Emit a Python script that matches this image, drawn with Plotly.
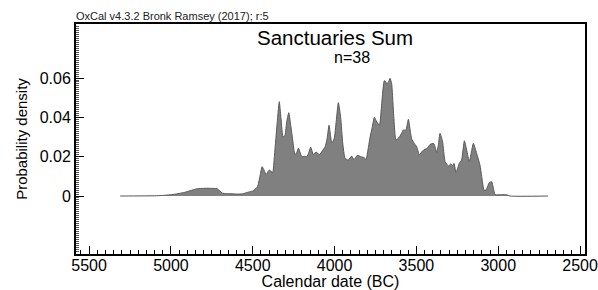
import plotly.graph_objects as go

years = [5310, 5100, 5050, 5005, 4970, 4944, 4920, 4901, 4870, 4840, 4800, 4760, 4718, 4700,
         4688, 4660, 4640, 4600, 4560, 4535, 4516, 4498, 4476, 4468, 4455, 4443, 4430, 4419,
         4410, 4399, 4388, 4378, 4368, 4358, 4348, 4338, 4328, 4318, 4313, 4303, 4292, 4280,
         4268, 4256, 4242, 4232, 4221, 4210, 4201, 4185, 4170, 4158, 4146, 4138, 4130, 4120,
         4109, 4093, 4075, 4058, 4046, 4034, 4025, 4017, 4003, 3990, 3977, 3963, 3950, 3936,
         3916, 3896, 3881, 3861, 3840, 3820, 3808, 3795, 3783, 3770, 3757, 3742, 3726, 3712,
         3696, 3681, 3670, 3661, 3651, 3644, 3637, 3625, 3604, 3590, 3580, 3565, 3549, 3539,
         3529, 3515, 3498, 3482, 3462, 3433, 3417, 3405, 3393, 3376, 3366, 3356, 3340, 3325,
         3305, 3290, 3278, 3270, 3258, 3238, 3224, 3207, 3193, 3177, 3165, 3152, 3132, 3112,
         3101, 3087, 3075, 3055, 3040, 3030, 3020, 3010, 2979, 2948, 2928, 2696]

density = [0, 0.0001, 0.0003, 0.0006, 0.001, 0.0014, 0.0018, 0.0022, 0.003, 0.0037, 0.0039,
           0.0039, 0.0037, 0.0025, 0.0015, 0.0012, 0.0012, 0.001, 0.0011, 0.0018, 0.0022,
           0.0026, 0.0042, 0.0055, 0.0105, 0.0149, 0.013, 0.0107, 0.012, 0.0132, 0.0125,
           0.012, 0.02, 0.030, 0.040, 0.048, 0.040, 0.031, 0.030, 0.031, 0.038, 0.0424,
           0.036, 0.0285, 0.0209, 0.022, 0.0243, 0.022, 0.020, 0.0202, 0.020, 0.022, 0.0248,
           0.023, 0.021, 0.022, 0.0222, 0.021, 0.023, 0.025, 0.029, 0.036, 0.031, 0.027,
           0.029, 0.038, 0.0475, 0.040, 0.0268, 0.0192, 0.0183, 0.0203, 0.0185, 0.0207,
           0.020, 0.0196, 0.0185, 0.024, 0.030, 0.035, 0.040, 0.0376, 0.036, 0.047, 0.0587,
           0.0573, 0.058, 0.0599, 0.057, 0.048, 0.0387, 0.0285, 0.030, 0.032, 0.0336, 0.0335,
           0.039, 0.034, 0.029, 0.027, 0.025, 0.021, 0.023, 0.0244, 0.0262, 0.0266, 0.0266,
           0.0222, 0.026, 0.0319, 0.0276, 0.0175, 0.0153, 0.0163, 0.0155, 0.0166, 0.0119,
           0.0166, 0.0183, 0.0281, 0.0234, 0.0175, 0.022, 0.0268, 0.0217, 0.0158, 0.0098,
           0.003, 0.003, 0.0068, 0.0073, 0.0039, 0.0008, 0.0006, 0.0007, 0.0006, 0, 0]

x_ticks = [5500, 5000, 4500, 4000, 3500, 3000, 2500]
y_ticks = [0, 0.02, 0.04, 0.06]
y_labels = ["0", "0.02", "0.04", "0.06"]

FONT = "Liberation Sans, Arial, sans-serif"
W, H = 598, 290
L, R, T, B = 76, 13, 24, 36
PW = W - L - R

def px(xpage):
    return (xpage - L) / PW

fig = go.Figure()
fig.add_trace(go.Scatter(
    x=years, y=density, mode="lines", fill="tozeroy",
    fillcolor="#808080", line=dict(color="#595959", width=1, shape="spline", smoothing=0.5),
    hoverinfo="skip", showlegend=False,
))

fig.update_layout(
    width=W, height=H,
    margin=dict(l=L, r=R, t=T, b=B),
    paper_bgcolor="white", plot_bgcolor="white",
    font=dict(family=FONT, color="black", size=16),
    xaxis=dict(
        range=[5580, 2470], tickvals=x_ticks, ticktext=[str(v) for v in x_ticks],
        ticks="inside", ticklen=8, tickwidth=1, tickcolor="black",
        showline=True, linecolor="black", linewidth=2, mirror=True, automargin=False,
        showgrid=False, zeroline=False, tickfont=dict(size=16), ticklabelstandoff=-4,
        minor=dict(ticks="inside", ticklen=4, tickwidth=1, tickcolor="black", dtick=50, tick0=0),
        title=dict(text="Calendar date (BC)", font=dict(size=16), standoff=0),
    ),
    yaxis=dict(
        range=[-0.0295, 0.0875], tickvals=y_ticks, ticktext=y_labels,
        ticks="inside", ticklen=8, tickwidth=1, tickcolor="black",
        showline=True, linecolor="black", linewidth=2, mirror=True, automargin=False,
        showgrid=False, zeroline=False, tickfont=dict(size=16),
        minor=dict(ticks="inside", ticklen=3, tickwidth=1, tickcolor="#555", dtick=0.001, tick0=0),
        title=dict(text="Probability density", font=dict(size=15), standoff=8),
    ),
    annotations=[
        dict(text="OxCal v4.3.2 Bronk Ramsey (2017); r:5", xref="paper", yref="paper",
             x=0, y=1, xanchor="left", yanchor="bottom", yshift=0, xshift=-2, showarrow=False,
             font=dict(size=11, color="#222")),
        dict(text="Sanctuaries Sum", xref="paper", yref="paper", x=px(335), y=1,
             xanchor="center", yanchor="top", yshift=0, showarrow=False,
             font=dict(size=20.5)),
        dict(text="n=38", xref="paper", yref="paper", x=px(352), y=1,
             xanchor="center", yanchor="top", yshift=-23, showarrow=False,
             font=dict(size=16)),
    ],
)

fig.write_html(
    "out.html",
    config={"displayModeBar": False, "staticPlot": True},
    post_script=("document.body.style.margin='0';"
                 "document.documentElement.style.overflow='hidden';"
                 "document.body.style.overflow='hidden';"),
)
